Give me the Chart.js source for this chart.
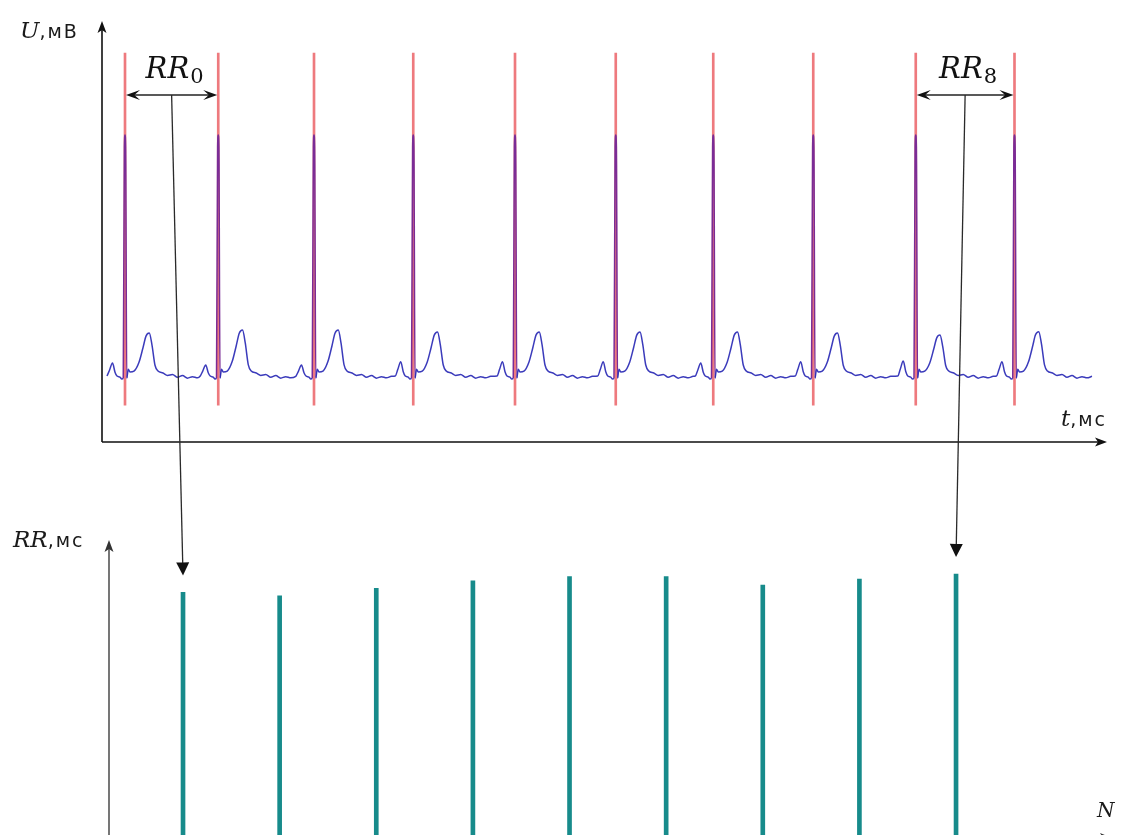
<!DOCTYPE html>
<html>
<head>
<meta charset="utf-8">
<title>RR</title>
<script src="https://cdn.jsdelivr.net/npm/chart.js@4.4.1/dist/chart.umd.min.js"></script>
<style>
  html, body { margin: 0; padding: 0; background: #fff; overflow: hidden; }
  #wrap { position: relative; width: 1136px; height: 835px; overflow: hidden; }
  #ecgBox { position: absolute; left: 0; top: 0; }
  #rrBox { position: absolute; left: 0; top: 520px; }
  #overlay { position: absolute; left: 0; top: 0; pointer-events: none; }
</style>
</head>
<body>
<div id="wrap">
  <div id="ecgBox"><canvas id="ecgChart" width="1136" height="460"></canvas></div>
  <div id="rrBox"><canvas id="rrChart" width="1136" height="330"></canvas></div>
  <canvas id="overlay" width="1136" height="835"></canvas>
</div>
<script>
// ECG: time of each R peak (ms) and the P / T wave heights of each beat (mV)
const rPeaks = [184, 930, 1696, 2490, 3304, 4110, 4890, 5690, 6510, 7300];
const pWave = [0.086, 0.073, 0.073, 0.095, 0.095, 0.095, 0.086, 0.095, 0.1, 0.095];
const tWave = [0.285, 0.305, 0.305, 0.292, 0.292, 0.292, 0.292, 0.285, 0.272, 0.294];
const rWave = 1.6;

// one beat around its R peak: offset (ms), level; P/T/R rows are fractions of that beat's wave
const beatOffsets = [-144, -124, -100, -80, -64, -40, -26, -14, -5, 0, 5, 14, 26, 40, 72, 112, 144, 168, 194, 216, 240, 264, 304, 340, 380, 420, 460, 500, 540, 580, 620];
const beatLevels  = [0, 0.45, 1, 0.3, 0, -0.007, -0.02, -0.015, 0.95, 1, 0.95, -0.015, 0.045, 0.027, 0.033, 0.32, 0.66, 0.93, 1, 0.72, 0.25, 0.033, 0.02, 0.004, 0.01, -0.008, 0.003, -0.014, -0.004, -0.012, -0.002];
const beatParts   = ['', 'P', 'P', 'P', '', '', '', '', 'R', 'R', 'R', '', '', '', '', 'T', 'T', 'T', 'T', 'T', 'T', '', '', '', '', '', '', '', '', '', ''];
const traceEnd = 7920;

// red R-peak markers (mV range)
const markerLow = -0.193;
const markerHigh = 2.144;

// RR intervals (ms)
const rrIndex = [0, 1, 2, 3, 4, 5, 6, 7, 8];
const rrValues = [824, 813, 838, 863, 877, 877, 849, 869, 886];
const markedRR = [0, 8];

// texts
const uLabel = ['U', ',мВ'];
const tLabel = ['t', ',мс'];
const rrLabel = ['RR', ',мс'];
const nLabel = 'N';
const rrName = 'RR';

const spanLevel = 1.866;   // mV height of the double arrows
const labelLevel = 1.978;  // mV baseline of RR_k labels

const mathFont = s => `italic ${s}px "DejaVu Serif"`;
const sansFont = s => `${s}px "DejaVu Sans", sans-serif`;

function arrowHead(ctx, x, y, angle, len, half, notch) {
    ctx.save();
    ctx.translate(x, y);
    ctx.rotate(angle);
    ctx.beginPath();
    ctx.moveTo(0, 0);
    ctx.lineTo(-len, -half);
    ctx.lineTo(-len * notch, 0);
    ctx.lineTo(-len, half);
    ctx.closePath();
    ctx.fill();
    ctx.restore();
}

// draws [text, font, spacing] pieces one after another
function drawParts(ctx, parts, x, y) {
    ctx.textAlign = 'left';
    ctx.textBaseline = 'alphabetic';
    parts.forEach(([text, font, sp]) => {
        ctx.font = font;
        ctx.letterSpacing = (sp || 0) + 'px';
        ctx.fillText(text, x, y);
        x += ctx.measureText(text).width;
    });
    ctx.letterSpacing = '0px';
}

function buildTrace() {
    const pts = [];
    rPeaks.forEach((r, i) => {
        const stop = i < rPeaks.length - 1 ? rPeaks[i + 1] + beatOffsets[0] : traceEnd + 1;
        beatOffsets.forEach((off, j) => {
            const t = r + off;
            if (t >= stop || t > traceEnd) return;
            let v = beatLevels[j];
            if (beatParts[j] === 'P') v *= pWave[i];
            else if (beatParts[j] === 'T') v *= tWave[i];
            else if (beatParts[j] === 'R') v *= rWave;
            pts.push({ x: t, y: v });
        });
    });
    return pts;
}

const ecgDecor = {
    id: 'ecgDecor',
    afterDraw(chart) {
        const { ctx, chartArea: a, scales } = chart;
        ctx.save();
        ctx.strokeStyle = '#111';
        ctx.fillStyle = '#111';
        ctx.lineWidth = 1.6;
        ctx.beginPath();
        ctx.moveTo(a.left, a.bottom);
        ctx.lineTo(a.left, a.top + 8);
        ctx.moveTo(a.left, a.bottom);
        ctx.lineTo(a.right - 8, a.bottom);
        ctx.stroke();
        arrowHead(ctx, a.left, a.top, -Math.PI / 2, 12, 4.5, 0.75);
        arrowHead(ctx, a.right, a.bottom, 0, 12, 4.5, 0.75);

        ctx.fillStyle = '#1a1a1a';
        drawParts(ctx, [[uLabel[0], mathFont(23)], [uLabel[1], sansFont(19), 2]], a.left - 82, a.top + 17);
        drawParts(ctx, [[tLabel[0], mathFont(23)], [tLabel[1], sansFont(19), 2]], a.right - 46, a.bottom - 16);

        markedRR.forEach(k => {
            const x1 = scales.x.getPixelForValue(rPeaks[k]);
            const x2 = scales.x.getPixelForValue(rPeaks[k + 1]);
            const y = scales.y.getPixelForValue(spanLevel);
            ctx.strokeStyle = '#222';
            ctx.fillStyle = '#111';
            ctx.lineWidth = 1.4;
            ctx.beginPath();
            ctx.moveTo(x1 + 8, y);
            ctx.lineTo(x2 - 8, y);
            ctx.stroke();
            arrowHead(ctx, x1 + 1, y, Math.PI, 14, 5, 0.6);
            arrowHead(ctx, x2 - 1, y, 0, 14, 5, 0.6);

            const by = scales.y.getPixelForValue(labelLevel);
            ctx.font = mathFont(29);
            const w1 = ctx.measureText(rrName).width;
            ctx.font = '21px "DejaVu Serif"';
            const w2 = ctx.measureText(String(k)).width;
            const sx = (x1 + x2) / 2 + 3 - (w1 + w2 + 1) / 2;
            ctx.fillStyle = '#111';
            ctx.font = mathFont(29);
            ctx.fillText(rrName, sx, by);
            ctx.font = '21px "DejaVu Serif"';
            ctx.fillText(String(k), sx + w1 + 1, by + 5);
        });
        ctx.restore();
    }
};

const rrDecor = {
    id: 'rrDecor',
    afterDraw(chart) {
        const { ctx, chartArea: a } = chart;
        ctx.save();
        ctx.strokeStyle = '#555';
        ctx.fillStyle = '#333';
        ctx.lineWidth = 1.6;
        ctx.beginPath();
        ctx.moveTo(a.left, a.bottom);
        ctx.lineTo(a.left, a.top + 8);
        ctx.moveTo(a.left, a.bottom);
        ctx.lineTo(a.right - 8, a.bottom);
        ctx.stroke();
        arrowHead(ctx, a.left, a.top, -Math.PI / 2, 12, 4.5, 0.75);
        arrowHead(ctx, a.right, a.bottom, 0, 12, 5, 0.75);

        ctx.fillStyle = '#1a1a1a';
        drawParts(ctx, [[rrLabel[0], mathFont(23)], [rrLabel[1], sansFont(19), 2]], a.left - 96, a.top + 7);
        ctx.font = mathFont(20);
        ctx.fillText(nLabel, a.right - 15, a.bottom - 21);
        ctx.restore();
    }
};

const spikeColor = '#7a2c96';

const ecgChart = new Chart(document.getElementById('ecgChart'), {
    type: 'line',
    data: {
        datasets: [
            {
                type: 'bar',
                data: rPeaks.map(t => ({ x: t, y: [markerLow, markerHigh] })),
                backgroundColor: 'rgba(232, 70, 76, 0.72)',
                barThickness: 2,
                grouped: false,
                order: 1
            },
            {
                type: 'line',
                data: buildTrace(),
                borderColor: 'rgba(38, 38, 180, 0.9)',
                borderWidth: 1.5,
                pointRadius: 0,
                cubicInterpolationMode: 'monotone',
                segment: {
                    borderColor: c => (c.p0.parsed.y > 0.5 || c.p1.parsed.y > 0.5) ? spikeColor : undefined
                },
                order: 0
            }
        ]
    },
    options: {
        responsive: false,
        animation: false,
        layout: { padding: { left: 102, right: 29, top: 21, bottom: 18 } },
        plugins: { legend: { display: false }, tooltip: { enabled: false } },
        scales: {
            x: { type: 'linear', min: 0, max: 8040, offset: false, display: false },
            y: { type: 'linear', min: -0.438, max: 2.357, display: false }
        }
    },
    plugins: [ecgDecor]
});

const rrChart = new Chart(document.getElementById('rrChart'), {
    type: 'bar',
    data: {
        datasets: [{
            data: rrIndex.map((n, i) => ({ x: n, y: rrValues[i] })),
            backgroundColor: '#178b8b',
            barThickness: 4
        }]
    },
    options: {
        responsive: false,
        animation: false,
        layout: { padding: { left: 109, right: 24, top: 20, bottom: 12 } },
        plugins: { legend: { display: false }, tooltip: { enabled: false } },
        scales: {
            x: { type: 'linear', min: -0.766, max: 9.614, offset: false, display: false },
            y: { type: 'linear', min: 0, max: 1000, display: false }
        }
    },
    plugins: [rrDecor]
});

// connectors from RR_k spans to their bars
function drawConnectors() {
    const ctx = document.getElementById('overlay').getContext('2d');
    const rrTop = document.getElementById('rrBox').offsetTop;
    const ex = ecgChart.scales.x, ey = ecgChart.scales.y;
    const bx = rrChart.scales.x, by = rrChart.scales.y;
    ctx.strokeStyle = '#2a2a2a';
    ctx.fillStyle = '#111';
    ctx.lineWidth = 1.3;
    markedRR.forEach(k => {
        const x0 = (ex.getPixelForValue(rPeaks[k]) + ex.getPixelForValue(rPeaks[k + 1])) / 2;
        const y0 = ey.getPixelForValue(spanLevel);
        const x1 = bx.getPixelForValue(rrIndex[k]);
        const y1 = rrTop + by.getPixelForValue(rrValues[k]) - 17;
        const ang = Math.atan2(y1 - y0, x1 - x0);
        ctx.beginPath();
        ctx.moveTo(x0, y0);
        ctx.lineTo(x1 - Math.cos(ang) * 11, y1 - Math.sin(ang) * 11);
        ctx.stroke();
        arrowHead(ctx, x1, y1, ang, 13, 6.5, 1);
    });
}
drawConnectors();
</script>
</body>
</html>
